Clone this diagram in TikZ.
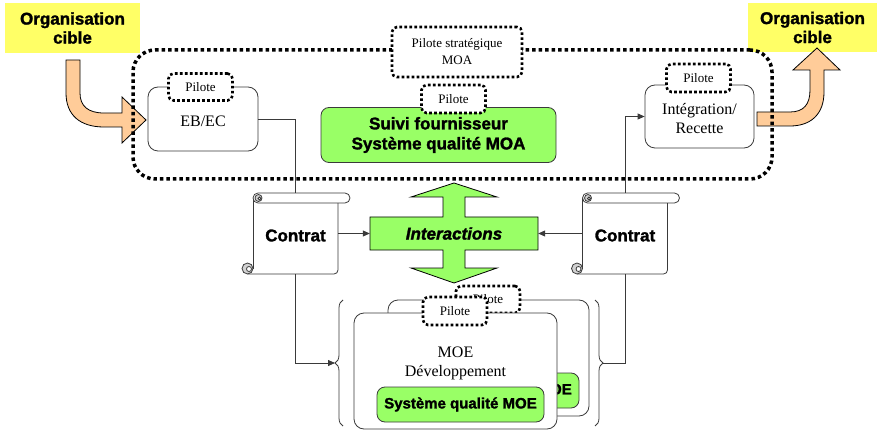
\documentclass[tikz,border=0pt]{standalone}
\usepackage{fontspec}
\setmainfont{Liberation Serif}
\newfontface\heavy[FakeBold=1.6]{Liberation Sans Bold}
\newfontface\heavyit[FakeBold=1.6]{Liberation Sans Bold Italic}
\usetikzlibrary{decorations.pathreplacing,arrows.meta}
\definecolor{yel}{HTML}{FFFF66}
\definecolor{grn}{HTML}{99FF66}
\definecolor{org}{HTML}{FFCC99}
\definecolor{ln}{HTML}{3A3A3A}
\newcommand\myscrollshape{%
  \path[fill=white] (-42.5,-35.5) rectangle (42.5,40.5);
  \draw[scrollline,rounded corners=4pt] (-48,40.5) -- (42.5,40.5) -- (42.5,-30.5);
  \draw[scrollline] (-42.5,-35.5) -- (-42.5,35);
  \draw[scrollline,fill=white,rounded corners=5pt] (-42.5,-40.5) rectangle (54.5,-30.5);
  \draw[scrollline,fill=gray!35] (-37,-35.5) circle (3.5);
  \draw[scrollline,fill=white] (-36,-35) circle (1.5);
  \draw[scrollline,fill=gray!35] (-48,35) circle (5.5);
  \draw[scrollline,fill=white] (-46.5,35.5) circle (2.5);
}
\begin{document}
\begin{tikzpicture}[x=1pt,y=-1pt,
  yellowbox/.style={fill=yel,draw=none,inner sep=0pt,align=center,font=\heavy\fontsize{17}{19}\selectfont},
  whitebox/.style={draw=ln,fill=white,rounded corners=10pt,line width=0.8pt,inner sep=0pt},
  dotbox/.style={draw=black,fill=white,rounded corners=5pt,line width=2.6pt,dash pattern=on 2.6pt off 2.4pt,
     font=\fontsize{13}{17}\selectfont,align=center,inner sep=0pt},
  greenbox/.style={draw=ln,fill=grn,rounded corners=8pt,line width=0.8pt,align=center,inner sep=0pt},
  bigtext/.style={font=\fontsize{16}{19}\selectfont,align=center,inner sep=0pt},
  conn/.style={draw=ln,line width=0.8pt},
  arr/.style={conn,-{Triangle[length=7pt,width=6pt]}},
  bigarrow/.style={fill=org,draw=black,line width=0.8pt,line join=miter},
  scrollline/.style={draw=ln,line width=0.8pt},
  invis/.style={draw=none,inner sep=0pt},
  bracest/.style={draw=ln,line width=0.8pt,decorate,decoration={brace,amplitude=8pt}},
]
\useasboundingbox (0,0) rectangle (877,430);

% target organisations
\node[yellowbox,minimum width=135pt,minimum height=50pt] (orgL) at (72.5,28) {Organisation\\cible};
\node[yellowbox,minimum width=129pt,minimum height=49pt] (orgR) at (812.5,27.5) {Organisation\\cible};

% curved arrows
\draw[bigarrow] (66,60) -- (80,60) -- (80,93) .. controls (80,106) and (88,113) .. (104,113)
  -- (122,113) -- (122,97) -- (146,120) -- (122,143) -- (122,127) -- (104,127)
  .. controls (80,127) and (66,115) .. (66,93) -- cycle;
\draw[bigarrow] (757,112) -- (790,112) .. controls (804,112) and (810,104) .. (810,90)
  -- (810,70) -- (793,70) -- (817,48) -- (840,70) -- (824,70) -- (824,92)
  .. controls (824,115) and (810,126) .. (790,126) -- (757,126) -- cycle;

% MOA perimeter
\node[draw=black,line width=3.5pt,dash pattern=on 3.5pt off 3pt,rounded corners=22pt,
  minimum width=639pt,minimum height=129pt,inner sep=0pt] (moa) at (452.5,114.5) {};
\node[dotbox,minimum width=130pt,minimum height=50pt] (pstrat) at (457,52) {Pilote stratégique\\MOA};

% EB/EC
\node[whitebox,minimum width=110pt,minimum height=64pt] (ebec) at (203,119) {};
\node[bigtext] (ebect) at (203,121) {EB/EC};
\node[dotbox,minimum width=64pt,minimum height=27pt] (pil1) at (200.5,87) {Pilote};

% Integration
\node[whitebox,minimum width=109pt,minimum height=63pt] (integ) at (699.5,116.5) {};
\node[bigtext] (integt) at (699.5,119) {Intégration/\\Recette};
\node[dotbox,minimum width=64pt,minimum height=28pt] (pil3) at (698.5,78) {Pilote};

% Suivi fournisseur
\node[greenbox,minimum width=235pt,minimum height=55pt,font=\heavy\fontsize{17}{20}\selectfont] (suivi) at (438.5,135) {Suivi fournisseur\\Système qualité MOA};
\node[dotbox,minimum width=64pt,minimum height=28pt] (pil2) at (453.5,99) {Pilote};

% contracts
\node[invis,minimum width=85pt,minimum height=81pt] (cL) at (295.5,233.5) {};
\begin{scope}[shift={(cL.center)}]\myscrollshape\end{scope}
\node[invis,font=\heavy\fontsize{17}{19}\selectfont] (cLt) at (295.5,235.5) {Contrat};
\node[invis,minimum width=85pt,minimum height=81pt] (cR) at (625,233.5) {};
\begin{scope}[shift={(cR.center)}]\myscrollshape\end{scope}
\node[invis,font=\heavy\fontsize{17}{19}\selectfont] (cRt) at (625,235.5) {Contrat};

% interactions
\draw[fill=grn,draw=black,line width=0.8pt,line join=miter]
  (454,183) -- (497,197) -- (465,197) -- (465,217) -- (538,217) -- (538,250) -- (465,250)
  -- (465,268) -- (497,268) -- (454,283) -- (411,268) -- (443,268) -- (443,250) -- (370,250)
  -- (370,217) -- (443,217) -- (443,197) -- (411,197) -- cycle;
\node[invis,minimum width=168pt,minimum height=33pt,font=\heavyit\fontsize{17}{19}\selectfont] (inter) at (454,233.5) {Interactions};

% MOE stack (back)
\node[whitebox,minimum width=201pt,minimum height=116pt] (moeB) at (488.5,358) {};
\node[greenbox,minimum width=167pt,minimum height=35pt,font=\heavy\fontsize{15}{17}\selectfont] (sqB) at (495.5,390.5) {Système qualité MOE};
\node[dotbox,minimum width=64pt,minimum height=27pt] (pilB) at (488,299.5) {Pilote};
% MOE stack (front)
\node[whitebox,minimum width=203pt,minimum height=116pt] (moeF) at (455.5,371) {};
\node[bigtext] (moeFt) at (455.5,363) {MOE\\Développement};
\node[greenbox,minimum width=167pt,minimum height=35pt,font=\heavy\fontsize{15}{17}\selectfont] (sqF) at (460.5,404.5) {Système qualité MOE};
\node[dotbox,minimum width=64pt,minimum height=28pt] (pilF) at (455,311) {Pilote};

% braces
\draw[bracest] (343,426) -- (343,300);
\draw[bracest] (595,300) -- (595,426);
\coordinate (braceL) at (335,363);
\coordinate (braceR) at (603,363);

% connectors
\draw[conn] (ebec.east) -| (cL.north);
\draw[arr] (cR.north) |- (integ.west);
\draw[arr] (cL.east) -- (inter.west);
\draw[arr] (cR.west) -- (inter.east);
\draw[arr] (cL.south) |- (braceL);
\draw[conn] (cR.south) |- (braceR);
\end{tikzpicture}
\end{document}
